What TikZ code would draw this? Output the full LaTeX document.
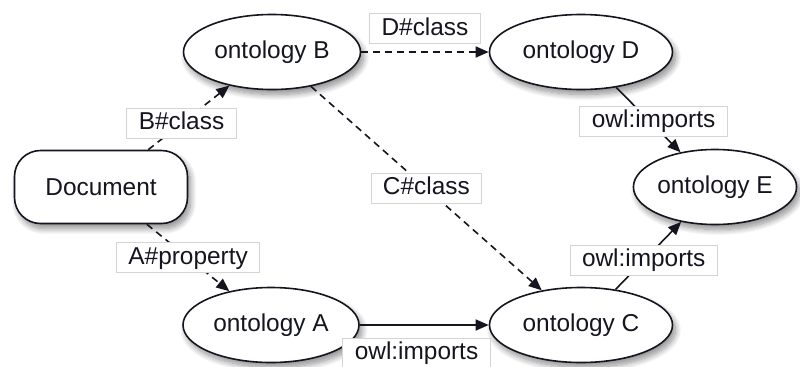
\documentclass[tikz,border=0pt]{standalone}
\usepackage{fontspec}
\setmainfont{Liberation Sans}
\usetikzlibrary{shapes.geometric,arrows.meta,shadows.blur}
\definecolor{inkc}{HTML}{15151F}
\definecolor{lblframe}{HTML}{D4D4D4}
\tikzset{
  onto/.style={ellipse, draw=inkc, line width=1.6bp, fill=white, inner sep=0pt,
    minimum width=#1, minimum height=75bp, text=inkc,
    blur shadow={shadow xshift=3bp, shadow yshift=-5bp, shadow blur radius=6bp,
      shadow blur steps=12, shadow opacity=45}},
  docbox/.style={rectangle, rounded corners=26bp, draw=inkc, line width=1.6bp,
    fill=white, minimum width=173bp, minimum height=73bp, text=inkc,
    blur shadow={shadow xshift=3bp, shadow yshift=-5bp, shadow blur radius=6bp,
      shadow blur steps=12, shadow opacity=45}},
  lbl/.style={rectangle, solid, draw=lblframe, line width=0.8bp, fill=white, text=inkc,
    inner xsep=12bp, inner ysep=3.5bp, text height=18bp, text depth=5bp},
  link/.style={draw=inkc, line width=1.6bp, -{Triangle[length=13bp,width=11bp]}},
  reflink/.style={link, dash pattern=on 7bp off 5bp},
}
\begin{document}
\begin{tikzpicture}[x=1bp, y=-1bp, font=\fontsize{24.5}{29}\selectfont]
\useasboundingbox (0,0) rectangle (800,366);

% resources
\node[docbox] (doc) at (101,187) {Document};
\node[onto=177bp] (B) at (272,52) {ontology B};
\node[onto=183bp] (D) at (581,52) {ontology D};
\node[onto=156bp] (E) at (715,187) {ontology E};
\node[onto=176bp] (A) at (271,325) {ontology A};
\node[onto=183bp] (C) at (581,325) {ontology C};

% references by name (dashed)
\path[reflink] (doc) -- node[lbl, pos=0.41] (lB) {B\#class} (B);
\path[reflink] (doc) -- node[lbl, pos=0.50] (lA) {A\#property} (A);
\path[reflink] (B) -- node[lbl, pos=0.5, above=8bp] (lD) {D\#class} (D);
\path[reflink] (B) -- node[lbl, pos=0.5] (lC) {C\#class} (C);

% imports (solid)
\path[link] (D) -- node[lbl, pos=0.52, xshift=4bp] (iDE) {owl:imports} (E);
\path[link] (C) -- node[lbl, pos=0.43] (iCE) {owl:imports} (E);
\path[link] (A) -- node[lbl, pos=0.44, below=13bp] (iAC) {owl:imports} (C);
\end{tikzpicture}
\end{document}
